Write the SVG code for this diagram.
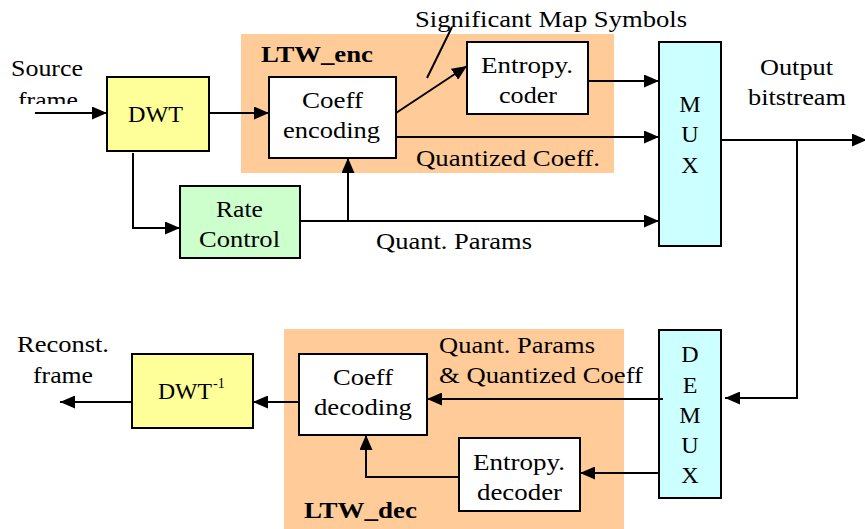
<svg xmlns="http://www.w3.org/2000/svg" width="865" height="529" viewBox="0 0 865 529">
<style>
.b{font-weight:bold}
.m{text-anchor:middle}
.box{stroke:#000;stroke-width:2}
.c{fill:none;stroke:#000;stroke-width:2}
</style>
<defs>
<marker id="ah" markerUnits="userSpaceOnUse" markerWidth="15" markerHeight="13" refX="15" refY="6.5" orient="auto">
<path d="M0,0 L15,6.5 L0,13 z" fill="#000"/>
</marker>
<clipPath id="cf"><rect x="0" y="80" width="120" height="24"/></clipPath>
</defs>
<g font-family="Liberation Serif" font-size="24" fill="#000">
<g id="ltw_enc_group">
<rect x="241" y="34" width="373" height="139" fill="#ffcc99"/>
<text class="b" x="261" y="62" textLength="112" lengthAdjust="spacingAndGlyphs">LTW_enc</text>
</g>
<g id="ltw_dec_group">
<rect x="284" y="329" width="340" height="200" fill="#ffcc99"/>
<text class="b" x="304" y="518" textLength="113" lengthAdjust="spacingAndGlyphs">LTW_dec</text>
</g>
<g id="labels">
<text x="11" y="76" textLength="72" lengthAdjust="spacingAndGlyphs">Source</text>
<text x="18" y="108" textLength="60" lengthAdjust="spacingAndGlyphs" clip-path="url(#cf)">frame</text>
<text x="415" y="27" textLength="272" lengthAdjust="spacingAndGlyphs">Significant Map Symbols</text>
<text x="416" y="166" textLength="184" lengthAdjust="spacingAndGlyphs">Quantized Coeff.</text>
<text x="376" y="249" textLength="156" lengthAdjust="spacingAndGlyphs">Quant. Params</text>
<text x="760" y="75" textLength="73" lengthAdjust="spacingAndGlyphs">Output</text>
<text x="748" y="105" textLength="98" lengthAdjust="spacingAndGlyphs">bitstream</text>
<text x="17" y="352" textLength="92" lengthAdjust="spacingAndGlyphs">Reconst.</text>
<text x="33" y="383" textLength="60" lengthAdjust="spacingAndGlyphs">frame</text>
<text x="439" y="353" textLength="156" lengthAdjust="spacingAndGlyphs">Quant. Params</text>
<text x="439" y="383" textLength="204" lengthAdjust="spacingAndGlyphs">&amp; Quantized Coeff</text>
</g>
<g id="dwt">
<rect class="box" x="107" y="77" width="102" height="74" fill="#ffff99"/>
<text x="128" y="122" textLength="55" lengthAdjust="spacingAndGlyphs">DWT</text>
</g>
<g id="coeff_enc">
<rect class="box" x="269" y="77" width="127" height="81" fill="#fff"/>
<text x="302" y="108" textLength="61" lengthAdjust="spacingAndGlyphs">Coeff</text>
<text x="283" y="138" textLength="97" lengthAdjust="spacingAndGlyphs">encoding</text>
</g>
<g id="entropy_coder">
<rect class="box" x="467" y="42" width="121" height="72" fill="#fff"/>
<text x="481" y="73" textLength="92" lengthAdjust="spacingAndGlyphs">Entropy.</text>
<text x="499" y="103" textLength="58" lengthAdjust="spacingAndGlyphs">coder</text>
</g>
<g id="rate_control">
<rect class="box" x="180" y="186" width="120" height="72" fill="#ccffcc"/>
<text x="216" y="217" textLength="47" lengthAdjust="spacingAndGlyphs">Rate</text>
<text x="199" y="247" textLength="81" lengthAdjust="spacingAndGlyphs">Control</text>
</g>
<g id="mux">
<rect class="box" x="659" y="42" width="62" height="204" fill="#ccffff"/>
<text class="m" x="690" y="112">M</text>
<text class="m" x="690" y="142">U</text>
<text class="m" x="690" y="173">X</text>
</g>
<g id="demux">
<rect class="box" x="659" y="330" width="62" height="168" fill="#ccffff"/>
<text class="m" x="690" y="362">D</text>
<text class="m" x="690" y="393">E</text>
<text class="m" x="690" y="423">M</text>
<text class="m" x="690" y="453">U</text>
<text class="m" x="690" y="483">X</text>
</g>
<g id="coeff_dec">
<rect class="box" x="299" y="354" width="128" height="81" fill="#fff"/>
<text x="333" y="385" textLength="60" lengthAdjust="spacingAndGlyphs">Coeff</text>
<text x="314" y="415" textLength="98" lengthAdjust="spacingAndGlyphs">decoding</text>
</g>
<g id="entropy_decoder">
<rect class="box" x="459" y="438" width="121" height="73" fill="#fff"/>
<text x="473" y="470" textLength="92" lengthAdjust="spacingAndGlyphs">Entropy.</text>
<text x="477" y="500" textLength="85" lengthAdjust="spacingAndGlyphs">decoder</text>
</g>
<g id="idwt">
<rect class="box" x="132" y="354" width="121" height="74" fill="#ffff99"/>
<text x="158" y="399" textLength="54" lengthAdjust="spacingAndGlyphs">DWT</text>
<text x="213" y="388" font-size="14">-1</text>
</g>
</g>
<g id="connectors">
<path class="c" d="M35,113 H107" marker-end="url(#ah)"/>
<path class="c" d="M209,113 H269" marker-end="url(#ah)"/>
<path class="c" d="M133,153 V228 H180" marker-end="url(#ah)"/>
<path class="c" d="M300,221 H659" marker-end="url(#ah)"/>
<path class="c" d="M348,221 V158" marker-end="url(#ah)"/>
<path class="c" d="M396,113 L467,66" marker-end="url(#ah)"/>
<path class="c" d="M588,81 H659" marker-end="url(#ah)"/>
<path class="c" d="M396,137 H659" marker-end="url(#ah)"/>
<path class="c" d="M721,140 H867" marker-end="url(#ah)"/>
<path class="c" d="M797,140 V398 H725" marker-end="url(#ah)"/>
<path class="c" d="M663,399 H427" marker-end="url(#ah)"/>
<path class="c" d="M659,473 H580" marker-end="url(#ah)"/>
<path class="c" d="M459,477 H366 V435" marker-end="url(#ah)"/>
<path class="c" d="M299,402 H253" marker-end="url(#ah)"/>
<path class="c" d="M132,402 H60" marker-end="url(#ah)"/>
<path class="c" d="M452,27 L427,78"/>
</g>
</svg>
